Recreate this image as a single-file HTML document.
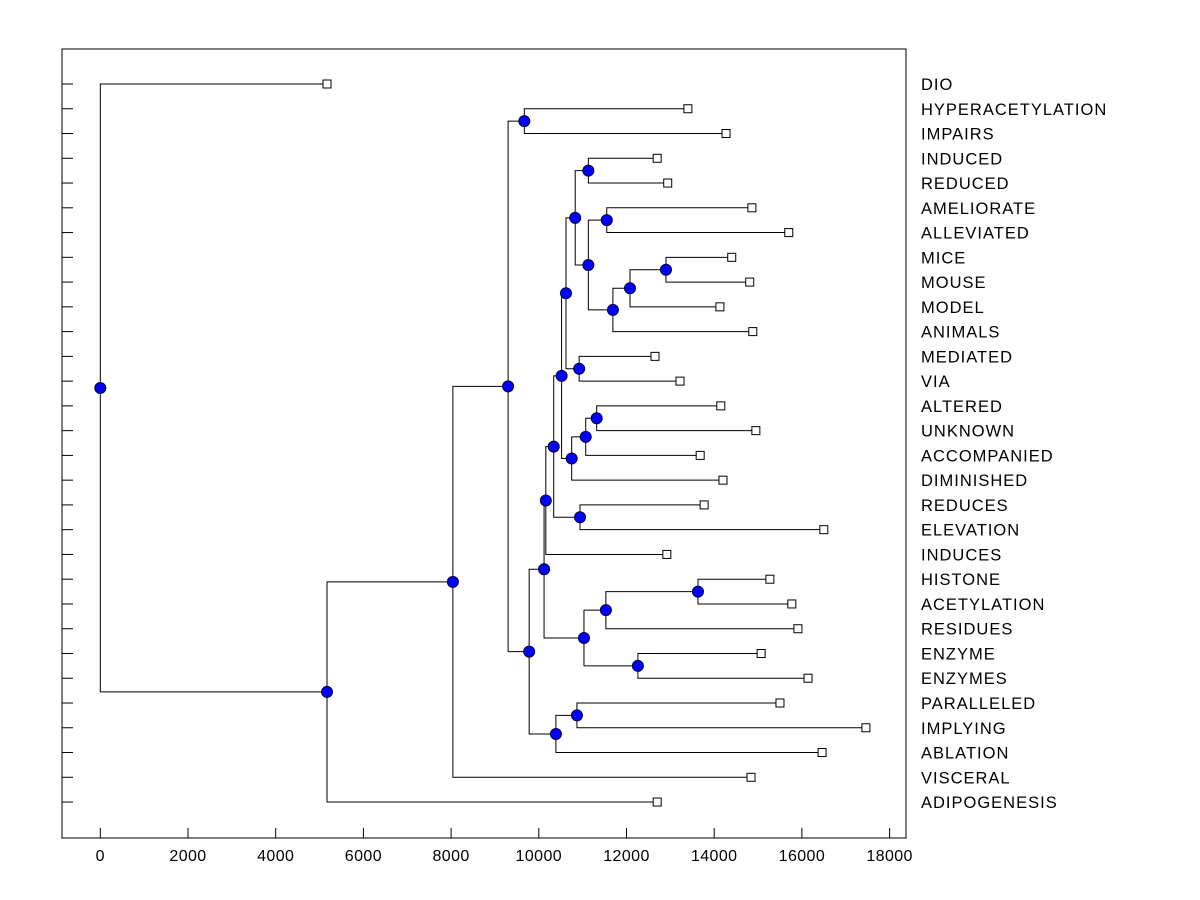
<!DOCTYPE html>
<html><head><meta charset="utf-8"><style>
html,body{margin:0;padding:0;background:#fff;}
svg{display:block;font-family:"Liberation Sans",Arial,sans-serif;}
</style></head><body>
<svg id="chart" width="1200" height="900">
<rect x="62" y="49" width="844" height="789" fill="#fff" stroke="#000" stroke-width="1"/>
<g id="axis"></g>
<g id="links"></g>
<g id="marks"></g>
<g id="labels"></g>
</svg>
<script>
const leafNames = ["DIO","HYPERACETYLATION","IMPAIRS","INDUCED","REDUCED","AMELIORATE","ALLEVIATED","MICE","MOUSE","MODEL","ANIMALS","MEDIATED","VIA","ALTERED","UNKNOWN","ACCOMPANIED","DIMINISHED","REDUCES","ELEVATION","INDUCES","HISTONE","ACETYLATION","RESIDUES","ENZYME","ENZYMES","PARALLELED","IMPLYING","ABLATION","VISCERAL","ADIPOGENESIS"];
const leafValues = [5170,13400,14270,12700,12940,14860,15700,14400,14810,14130,14880,12650,13220,14150,14950,13680,14200,13770,16500,12920,15270,15770,15910,15070,16140,15500,17460,16460,14840,12700];
// merges: children refs "L<i>" = leaf, "N<j>" = earlier node
const mergeLeft  = ["L1","L3","L5","L7","N3","N4","N2","N1","L11","N7","L13","N10","N11","L17","N9","N14","N15","L20","N17","L23","N18","L25","N21","N16","N23","N0","N25","N26","L0"];
const mergeRight = ["L2","L4","L6","L8","L9","L10","N5","N6","L12","N8","L14","L15","L16","L18","N12","N13","L19","L21","L22","L24","N19","L26","L27","N20","N22","N24","L28","L29","N27"];
const mergeValues = [9670,11130,11550,12900,12080,11690,11130,10830,10920,10620,11320,11070,10750,10940,10520,10340,10160,13630,11530,12260,11030,10870,10390,10120,9780,9300,8040,5170,0];
const xTicks = [0,2000,4000,6000,8000,10000,12000,14000,16000,18000];

const NS="http://www.w3.org/2000/svg";
const xs = v => 100.3 + v*0.04385;
const ys = i => 84 + i*24.76;
function mk(tag, attrs, parent){const e=document.createElementNS(NS,tag);for(const k in attrs)e.setAttribute(k,attrs[k]);parent.appendChild(e);return e;}
const axis=document.getElementById('axis'),links=document.getElementById('links'),marks=document.getElementById('marks'),labels=document.getElementById('labels');

xTicks.forEach(t=>{
  const l=mk('line',{x1:xs(t),x2:xs(t),y1:838,y2:828,stroke:'#000'},axis);
  
  
  const tx=mk('text',{x:xs(t),y:861,'text-anchor':'middle','font-size':'16','letter-spacing':'0.4'},axis);
  tx.textContent=t;
  
  
});
leafNames.forEach((n,i)=>{
  const l=mk('line',{x1:62,x2:73,y1:ys(i),y2:ys(i),stroke:'#000'},axis);
  
  
  const tx=mk('text',{x:921,y:ys(i)+6,'font-size':'16.5','letter-spacing':'1'},labels);
  tx.textContent=n;
  
  
});

const nodePos=[];
function pos(ref){const k=+ref.slice(1);return ref[0]==='L'?{x:xs(leafValues[k]),y:ys(k)}:nodePos[k];}
mergeValues.forEach((v,j)=>{
  const a=pos(mergeLeft[j]),b=pos(mergeRight[j]),x=xs(v);
  nodePos[j]={x:x,y:(a.y+b.y)/2};
  const p=mk('path',{d:`M${a.x},${a.y}H${x}V${b.y}H${b.x}`,fill:'none',stroke:'#000','stroke-width':1},links);
  
  
});
leafValues.forEach((v,i)=>{
  const r=mk('rect',{x:xs(v)-4,y:ys(i)-4,width:8,height:8,fill:'#fff',stroke:'#000'},marks);
  
  
});
nodePos.forEach(p=>{
  const c=mk('circle',{cx:p.x,cy:p.y,r:5.5,fill:'#0000ff',stroke:'#000033','stroke-width':1},marks);
  
  
});
</script>
</body></html>
